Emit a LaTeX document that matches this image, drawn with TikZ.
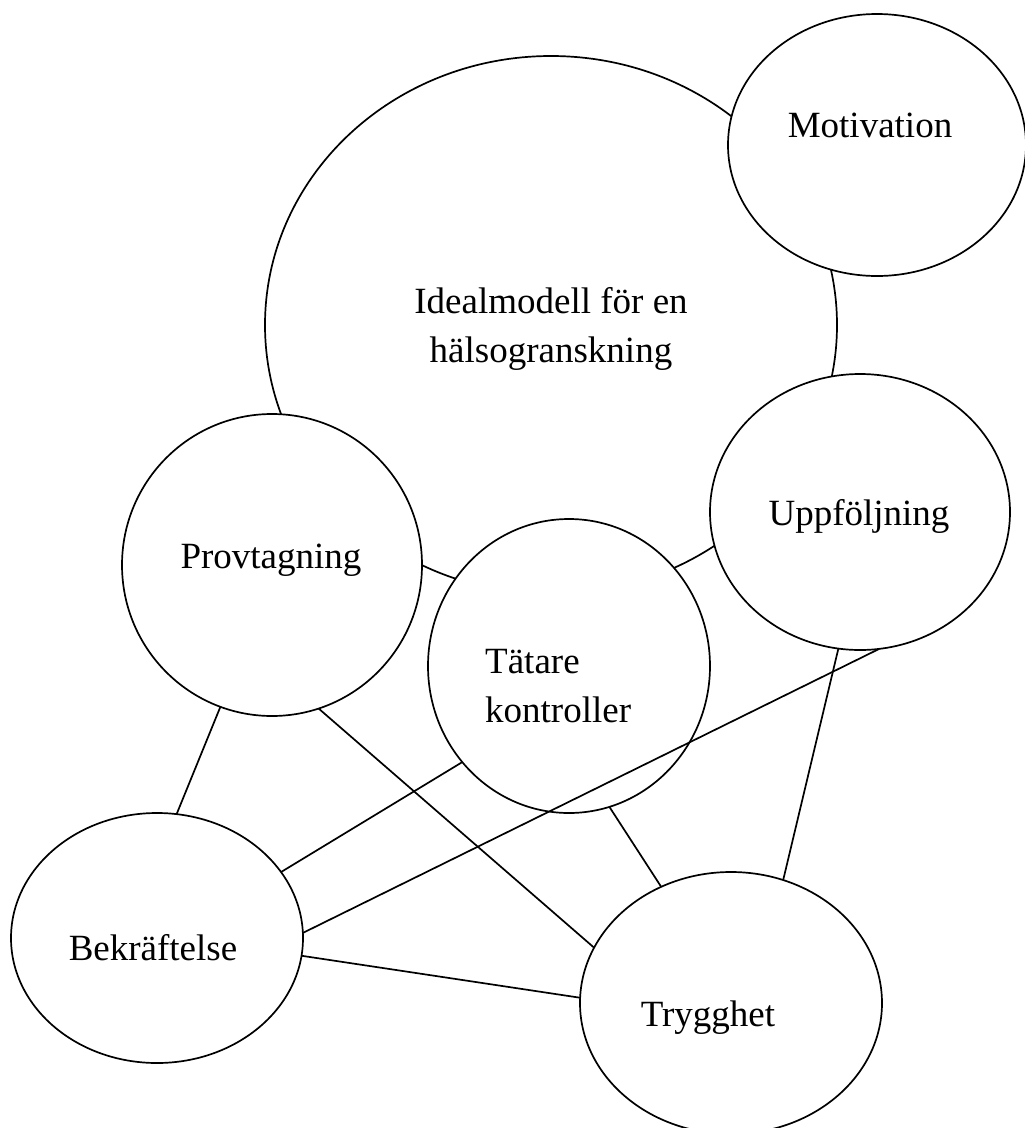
\documentclass[tikz,border=0pt]{standalone}
\usepackage{fontspec}
\setmainfont{Liberation Serif}
\usetikzlibrary{shapes.geometric}
\begin{document}
\begin{tikzpicture}[x=1pt,y=-1pt,
  bubble/.style={ellipse,draw=black,fill=white,line width=1.7pt,inner sep=0pt,outer sep=0pt},
  lbl/.style={anchor=base,inner sep=0pt,font=\fontsize{37}{49}\selectfont},
  lblw/.style={anchor=base west,inner sep=0pt,font=\fontsize{37}{49}\selectfont},
  link/.style={draw=black,line width=1.7pt}]
\useasboundingbox (0,0) rectangle (1025,1128);
\clip (0,0) rectangle (1025,1128);
\fill[white] (0,0) rectangle (1025,1128);
% ellipses
\node[bubble,minimum width=572pt,minimum height=538pt] (ideal) at (551,325) {};
\node[bubble,minimum width=298pt,minimum height=262pt] (moti) at (877,145) {};
\node[bubble,minimum width=300pt,minimum height=276pt] (upp) at (860,512) {};
\node[bubble,minimum width=300pt,minimum height=302pt] (prov) at (272,565) {};
\node[bubble,minimum width=282pt,minimum height=294pt] (tat) at (569,666) {};
\node[bubble,minimum width=292pt,minimum height=250pt] (bek) at (157,938) {};
\node[bubble,minimum width=302pt,minimum height=262pt] (tryg) at (731,1003) {};
% texts
\node[lbl] (tideal1) at (551,313) {Idealmodell för en};
\node[lbl] (tideal2) at (551,362) {hälsogranskning};
\node[lbl] (tmoti) at (870,137) {Motivation};
\node[lbl] (tupp) at (859,525) {Uppföljning};
\node[lbl] (tprov) at (271,568) {Provtagning};
\node[lblw] (ttat1) at (485,673) {Tätare};
\node[lblw] (ttat2) at (485,722) {kontroller};
\node[lbl] (tbek) at (153,960) {Bekräftelse};
\node[lbl] (ttryg) at (708,1026) {Trygghet};
% connectors
\draw[link] (prov.-110) -- (bek.81);
\draw[link] (prov.-72) -- (tryg.158.5);
\draw[link] (tat.-138.4) -- (bek.28);
\draw[link] (tat.-74.4) -- (tryg.121.5);
\draw[link] (upp.-82.9) -- (bek.2.4);
\draw[link] (upp.-99.6) -- (tryg.67.1);
\draw[link] (bek.-7.3) -- (tryg.178.1);
\end{tikzpicture}
\end{document}
